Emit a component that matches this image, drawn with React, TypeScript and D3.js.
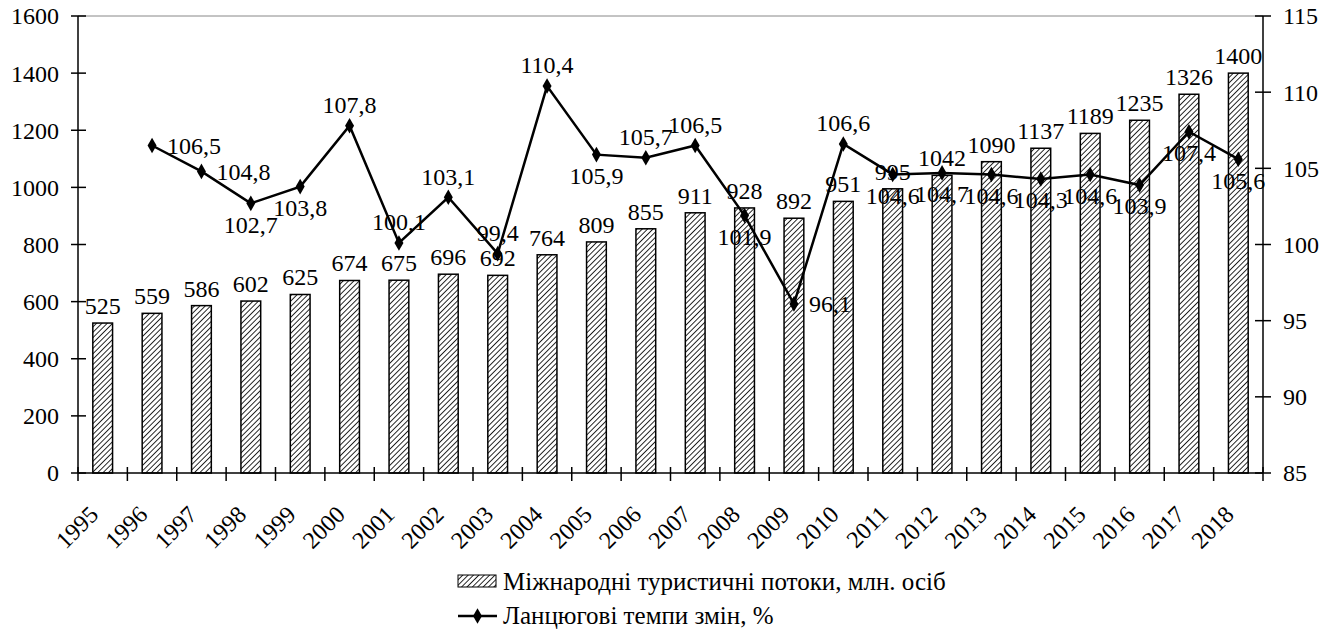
import React from "react";
import * as d3 from "d3";

const years = ["1995","1996","1997","1998","1999","2000","2001","2002","2003","2004","2005","2006","2007","2008","2009","2010","2011","2012","2013","2014","2015","2016","2017","2018"];
const flows = [525,559,586,602,625,674,675,696,692,764,809,855,911,928,892,951,995,1042,1090,1137,1189,1235,1326,1400];
const rateYears = ["1996","1997","1998","1999","2000","2001","2002","2003","2004","2005","2006","2007","2008","2009","2010","2011","2012","2013","2014","2015","2016","2017","2018"];
const rates = [106.5,104.8,102.7,103.8,107.8,100.1,103.1,99.4,110.4,105.9,105.7,106.5,101.9,96.1,106.6,104.6,104.7,104.6,104.3,104.6,103.9,107.4,105.6];
const rateLabelPlacement = ["right","right","below","below","above","above","above","above","above","below","above","above","below","right","above","below","below","below","below","below","below","below","below"];
const leftTicks = [0,200,400,600,800,1000,1200,1400,1600];
const rightTicks = [85,90,95,100,105,110,115];
const legendBars = "Міжнародні туристичні потоки, млн. осіб";
const legendLine = "Ланцюгові темпи змін, %";

const W = 1336, H = 630;
const L = 78, R = 1263, T = 16, B = 473;
const FONT = "Liberation Serif";
const FS = 24;
const TS: React.CSSProperties = { fontFamily: FONT, fontSize: FS };
const LS: React.CSSProperties = { fontFamily: FONT, fontSize: 25 };

export default function App() {
  const x = d3.scaleBand<string>().domain(years).range([L, R]).paddingInner(0).paddingOuter(0);
  const yL = d3.scaleLinear().domain([0, 1600]).range([B, T]);
  const yR = d3.scaleLinear().domain([85, 115]).range([B, T]);
  const bw = x.bandwidth();
  const barW = bw * 0.4;
  const cx = (y: string) => (x(y) as number) + bw / 2;
  const line = d3.line<number>().x((_, i) => cx(rateYears[i])).y((d) => yR(d));
  const diamond = d3.symbol().type(d3.symbolDiamond).size(70)();

  return (
    <svg width={W} height={H} style={{ position: "absolute", left: 0, top: 0, background: "#fff" }}>
      <defs>
        <pattern id="hatch" patternUnits="userSpaceOnUse" width="3.8" height="3.8" patternTransform="rotate(45)">
          <rect width="3.8" height="3.8" fill="#fff" />
          <line x1="0" y1="0" x2="0" y2="3.8" stroke="#111" strokeWidth="1.8" />
        </pattern>
      </defs>
      <rect width={W} height={H} fill="#fff" />
      <line x1={L} x2={R} y1={T} y2={T} stroke="#888" strokeWidth={1} />
      {flows.map((v, i) => (
        <g key={"b" + i}>
          <rect x={cx(years[i]) - barW / 2} y={yL(v)} width={barW} height={B - yL(v)} fill="url(#hatch)" stroke="#000" strokeWidth={1.5} />
          <text x={cx(years[i])} y={yL(v) - 9} textAnchor="middle" style={TS} fill="#000">{v}</text>
        </g>
      ))}
      <line x1={L} x2={L} y1={T} y2={B} stroke="#000" strokeWidth={1.5} />
      <line x1={R} x2={R} y1={T} y2={B} stroke="#000" strokeWidth={1.5} />
      <line x1={L} x2={R} y1={B} y2={B} stroke="#000" strokeWidth={1.5} />
      {leftTicks.map((t) => (
        <g key={"l" + t}>
          <line x1={L - 7} x2={L + 8} y1={yL(t)} y2={yL(t)} stroke="#000" strokeWidth={1.5} />
          <text x={L - 19} y={yL(t)} dy="0.35em" textAnchor="end" style={TS}>{t}</text>
        </g>
      ))}
      {rightTicks.map((t) => (
        <g key={"r" + t}>
          <line x1={R - 8} x2={R + 8} y1={yR(t)} y2={yR(t)} stroke="#000" strokeWidth={1.5} />
          <text x={R + 20} y={yR(t)} dy="0.35em" textAnchor="start" style={TS}>{t}</text>
        </g>
      ))}
      {years.concat(["end"]).map((yv, i) => {
        const px = L + i * bw;
        return <line key={"xt" + i} x1={px} x2={px} y1={B - 6} y2={B + 8} stroke="#000" strokeWidth={1.5} />;
      })}
      {years.map((yv) => (
        <text key={"xl" + yv} transform={`translate(${cx(yv) - 9},${B + 37}) rotate(-45)`} textAnchor="end" dy="0.35em" style={TS}>{yv}</text>
      ))}
      <path d={line(rates) as string} fill="none" stroke="#000" strokeWidth={2.5} />
      {rates.map((v, i) => (
        <path key={"m" + i} d={diamond as string} transform={`translate(${cx(rateYears[i])},${yR(v)})`} fill="#000" />
      ))}
      {rates.map((v, i) => {
        const p = rateLabelPlacement[i];
        const px = cx(rateYears[i]);
        const py = yR(v);
        const txt = String(v).replace(".", ",");
        if (p === "right") return <text key={"rl" + i} x={px + 15} y={py} dy="0.35em" style={TS}>{txt}</text>;
        if (p === "above") return <text key={"rl" + i} x={px} y={py - 21} dy="0.35em" textAnchor="middle" style={TS}>{txt}</text>;
        return <text key={"rl" + i} x={px} y={py + 21} dy="0.35em" textAnchor="middle" style={TS}>{txt}</text>;
      })}
      <rect x={458} y={575} width={38} height={12} fill="url(#hatch)" stroke="#000" strokeWidth={1} />
      <text x={503} y={581} dy="0.35em" style={LS}>{legendBars}</text>
      <line x1={458} x2={497} y1={616} y2={616} stroke="#000" strokeWidth={2.5} />
      <path d={diamond as string} transform="translate(477.5,616)" fill="#000" />
      <text x={503} y={616} dy="0.33em" style={LS}>{legendLine}</text>
    </svg>
  );
}
